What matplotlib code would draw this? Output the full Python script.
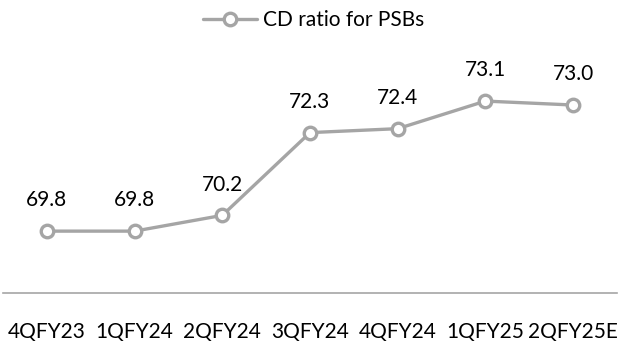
import matplotlib.pyplot as plt

quarters = ["4QFY23", "1QFY24", "2QFY24", "3QFY24", "4QFY24", "1QFY25", "2QFY25E"]
cd_ratio = [69.8, 69.8, 70.2, 72.3, 72.4, 73.1, 73.0]

plt.rcParams['font.family'] = ['Lato', 'DejaVu Sans']
grey = "#A5A5A5"

fig = plt.figure(figsize=(6.27, 3.47), dpi=100)
ax = fig.add_axes([3 / 627, 54 / 347, 614 / 627, 253 / 347])

x = range(len(quarters))
ax.plot(x, cd_ratio, color=grey, lw=2.4, marker="o", ms=9, mfc="white",
        mec=grey, mew=2.4, label="CD ratio for PSBs", solid_capstyle="round")

for i, v in enumerate(cd_ratio):
    ax.annotate(f"{v:.1f}", (i, v), xytext=(0, 15), textcoords="offset points",
                ha="center", va="bottom", fontsize=15, color="#000000")

ax.set_xlim(-0.5, len(quarters) - 0.5)
ax.set_ylim(68.23, 74.65)
ax.set_xticks(list(x))
ax.set_xticklabels(quarters, fontsize=15)
ax.tick_params(axis="x", length=0, pad=21)
ax.set_yticks([])
for s in ["top", "left", "right"]:
    ax.spines[s].set_visible(False)
ax.spines["bottom"].set_color("#A6A6A6")
ax.spines["bottom"].set_linewidth(1.2)

fig.legend(loc="upper center", bbox_to_anchor=(0.5, 1.0), frameon=False,
           fontsize=15, handlelength=2.6, handletextpad=0.3, borderaxespad=0.1)

fig.savefig("out.png", dpi=100)
